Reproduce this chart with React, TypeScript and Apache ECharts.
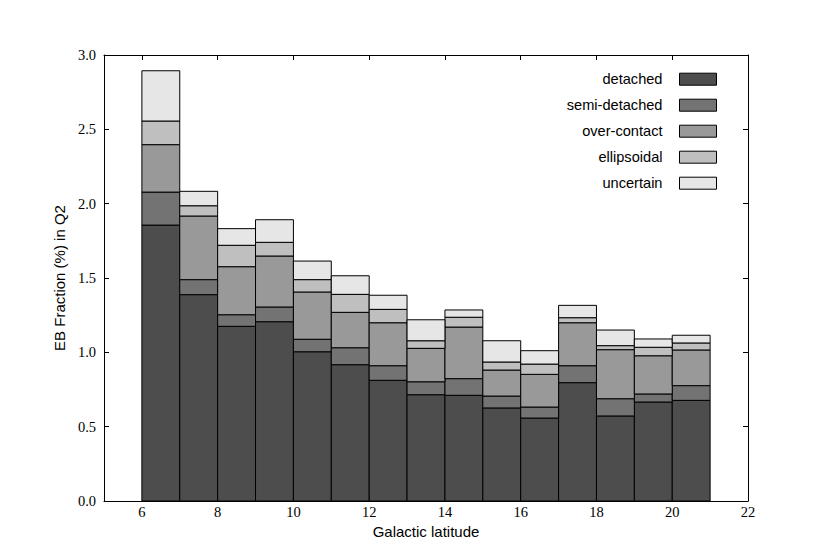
import React, { useEffect, useRef } from "react";
import * as echarts from "echarts";

const binStarts = [6, 7, 8, 9, 10, 11, 12, 13, 14, 15, 16, 17, 18, 19, 20];
const binWidth = 1;

const seriesNames = ["detached", "semi-detached", "over-contact", "ellipsoidal", "uncertain"];
const seriesColors = ["#4d4d4d", "#737373", "#999999", "#bfbfbf", "#e6e6e6"];

const detached = [1.856, 1.388, 1.175, 1.206, 1.004, 0.917, 0.812, 0.715, 0.711, 0.626, 0.558, 0.796, 0.572, 0.666, 0.677];
const semiDetached = [0.222, 0.101, 0.078, 0.099, 0.084, 0.114, 0.098, 0.087, 0.112, 0.080, 0.074, 0.114, 0.116, 0.054, 0.099];
const overContact = [0.319, 0.428, 0.323, 0.343, 0.318, 0.238, 0.289, 0.225, 0.347, 0.175, 0.220, 0.289, 0.330, 0.257, 0.240];
const ellipsoidal = [0.159, 0.069, 0.144, 0.092, 0.083, 0.121, 0.090, 0.051, 0.066, 0.054, 0.069, 0.034, 0.027, 0.057, 0.047];
const uncertain = [0.338, 0.097, 0.112, 0.152, 0.125, 0.125, 0.095, 0.141, 0.049, 0.143, 0.090, 0.083, 0.105, 0.056, 0.052];

const xLabel = "Galactic latitude";
const yLabel = "EB Fraction (%) in Q2";

export default function App() {
  const ref = useRef<HTMLDivElement>(null);

  useEffect(() => {
    if (!ref.current) return;
    const chart = echarts.init(ref.current, null, { renderer: "svg" });
    const layers = [detached, semiDetached, overContact, ellipsoidal, uncertain];
    const base = binStarts.map(() => 0);
    const series = layers.map((vals, si) => {
      const data = binStarts.map((x0, i) => {
        const lo = base[i];
        const hi = lo + vals[i];
        base[i] = hi;
        return [x0, x0 + binWidth, lo, hi];
      });
      return {
        type: "custom",
        name: seriesNames[si],
        itemStyle: { color: seriesColors[si] },
        encode: { x: [0, 1], y: [2, 3] },
        data,
        renderItem: (params: any, api: any) => {
          const p0 = api.coord([api.value(0), api.value(3)]);
          const p1 = api.coord([api.value(1), api.value(2)]);
          return {
            type: "rect",
            shape: { x: p0[0], y: p0[1], width: p1[0] - p0[0], height: p1[1] - p0[1] },
            style: { fill: seriesColors[si], stroke: "#000", lineWidth: 1 },
          };
        },
      };
    });

    const tickCommon = { show: true, inside: true, length: 5, lineStyle: { color: "#000", width: 1 } };
    const lineCommon = { show: true, onZero: false, lineStyle: { color: "#000", width: 1 } };
    const serifLabel = { fontFamily: "Liberation Serif", fontSize: 14.5, color: "#000" };

    chart.setOption({
      animation: false,
      backgroundColor: "#fff",
      grid: { left: 104, right: 83, top: 55, bottom: 56, containLabel: false },
      legend: {
        orient: "vertical",
        align: "right",
        right: 114,
        top: 71.7,
        padding: 0,
        itemWidth: 37,
        itemHeight: 12,
        itemGap: 11,
        icon: "rect",
        itemStyle: { borderColor: "#000", borderWidth: 1 },
        textStyle: { fontFamily: "Liberation Sans", fontSize: 14.6, color: "#000", lineHeight: 14, padding: [0, 12, 0, 0] },
        data: seriesNames,
      },
      xAxis: [
        {
          type: "value",
          min: 5,
          max: 22,
          splitNumber: 8,
          position: "bottom",
          name: xLabel,
          nameLocation: "middle",
          nameGap: 14,
          nameTextStyle: { fontFamily: "Liberation Sans", fontSize: 15, color: "#000" },
          axisLine: lineCommon,
          axisTick: tickCommon,
          splitLine: { show: false },
          axisLabel: { ...serifLabel, margin: 3, showMinLabel: false, formatter: (v: number) => (v === 5 ? "" : String(v)) },
        },
        {
          type: "value",
          min: 5,
          max: 22,
          splitNumber: 8,
          position: "top",
          axisLine: lineCommon,
          axisTick: tickCommon,
          splitLine: { show: false },
          axisLabel: { show: false },
        },
      ],
      yAxis: [
        {
          type: "value",
          min: 0,
          max: 3,
          interval: 0.5,
          position: "left",
          name: yLabel,
          nameLocation: "middle",
          nameGap: 22,
          nameTextStyle: { fontFamily: "Liberation Sans", fontSize: 15, color: "#000" },
          axisLine: lineCommon,
          axisTick: tickCommon,
          splitLine: { show: false },
          axisLabel: { ...serifLabel, margin: 8, formatter: (v: number) => v.toFixed(1) },
        },
        {
          type: "value",
          min: 0,
          max: 3,
          interval: 0.5,
          position: "right",
          axisLine: lineCommon,
          axisTick: tickCommon,
          splitLine: { show: false },
          axisLabel: { show: false },
        },
      ],
      series,
    });
    return () => chart.dispose();
  }, []);

  return (
    <div
      ref={ref}
      style={{ position: "fixed", left: 0, top: 0, width: 831, height: 557, background: "#fff" }}
    />
  );
}
